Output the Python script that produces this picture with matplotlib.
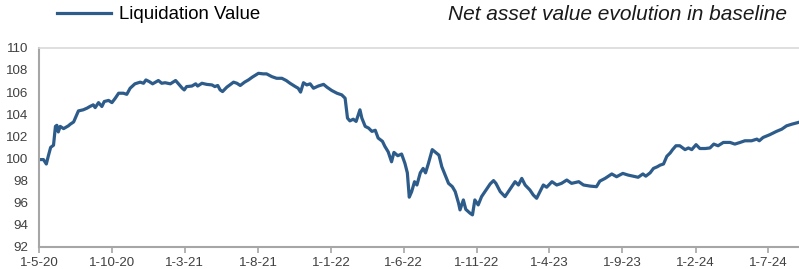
import matplotlib
matplotlib.use("Agg")
from matplotlib import pyplot as plt
import pandas as pd

days = [0, 9, 15, 19, 24, 30, 34, 37, 40, 44, 51, 61, 65, 72, 77, 82, 92, 100,
        106, 113, 117, 124, 131, 136, 145, 152, 159, 166, 176, 183, 190, 200,
        211, 218, 223, 230, 237, 249, 256, 263, 274, 285, 291, 299, 303, 308,
        319, 327, 331, 340, 350, 361, 367, 373, 378, 383, 392, 406, 413, 420,
        429, 437, 445, 458, 468, 475, 486, 496, 507, 516, 524, 535, 541, 546,
        552, 559, 566, 573, 583, 594, 601, 611, 622, 632, 639, 644, 649, 656,
        662, 665, 670, 674, 681, 688, 695, 702, 708, 717, 722, 729, 736, 741,
        749, 757, 764, 769, 773, 778, 784, 789, 796, 802, 807, 813, 821, 828,
        835, 841, 848, 855, 863, 869, 876, 879, 886, 891, 900, 905, 910, 917,
        924, 931, 942, 949, 954, 963, 973, 980, 987, 994, 1001, 1008, 1015,
        1025, 1032, 1039, 1046, 1053, 1060, 1071, 1081, 1091, 1102, 1112, 1127,
        1137, 1151, 1164, 1171, 1182, 1196, 1206, 1219, 1230, 1241, 1251, 1261,
        1267, 1276, 1283, 1291, 1297, 1304, 1311, 1318, 1323, 1330, 1338, 1349,
        1356, 1363, 1372, 1380, 1391, 1401, 1409, 1418, 1429, 1443, 1453, 1464,
        1474, 1488, 1499, 1504, 1512, 1526, 1540, 1551, 1561, 1572, 1585]
liq_value = [99.9, 99.9, 99.5, 100.2, 101.0, 101.2, 102.9, 103.0, 102.4, 102.9,
             102.7, 102.95, 103.1, 103.3, 103.8, 104.3, 104.4, 104.55, 104.7,
             104.85, 104.6, 105.05, 104.7, 105.15, 105.25, 105.05, 105.45, 105.9,
             105.9, 105.8, 106.35, 106.75, 106.9, 106.8, 107.1, 106.95, 106.75,
             107.05, 106.8, 106.85, 106.75, 107.05, 106.75, 106.35, 106.2, 106.5,
             106.55, 106.75, 106.55, 106.8, 106.7, 106.65, 106.5, 106.6, 106.2,
             106.05, 106.45, 106.9, 106.8, 106.6, 106.9, 107.1, 107.35, 107.7,
             107.65, 107.65, 107.4, 107.25, 107.25, 107.05, 106.8, 106.5, 106.35,
             106.0, 106.85, 106.65, 106.75, 106.35, 106.55, 106.7, 106.45, 106.15,
             105.9, 105.75, 105.45, 103.65, 103.4, 103.55, 103.35, 103.75, 104.4,
             103.65, 102.9, 102.75, 102.45, 102.55, 101.85, 101.55, 101.1, 100.6,
             99.7, 100.55, 100.25, 100.4, 99.55, 98.7, 96.5, 97.0, 97.9, 97.6,
             98.7, 99.1, 98.7, 99.55, 100.8, 100.55, 100.3, 99.25, 98.5, 97.75,
             97.45, 97.0, 95.95, 95.35, 96.25, 95.4, 95.05, 94.9, 96.25, 95.8,
             96.55, 97.0, 97.7, 98.0, 97.75, 97.0, 96.55, 97.0, 97.45, 97.9, 97.6,
             98.2, 97.6, 97.15, 96.7, 96.4, 97.0, 97.6, 97.4, 97.9, 97.6, 97.75,
             98.05, 97.75, 97.9, 97.6, 97.5, 97.45, 97.95, 98.2, 98.6, 98.35,
             98.65, 98.5, 98.4, 98.3, 98.6, 98.4, 98.7, 99.1, 99.25, 99.4, 99.5,
             100.2, 100.5, 100.8, 101.15, 101.15, 100.8, 100.95, 100.8, 101.25,
             100.9, 100.9, 100.95, 101.3, 101.15, 101.45, 101.45, 101.3, 101.45,
             101.6, 101.6, 101.75, 101.6, 101.9, 102.15, 102.45, 102.65, 102.95,
             103.1, 103.25]

start = pd.Timestamp("2020-05-01")
dates = start + pd.to_timedelta(days, unit="D")

tick_dates = pd.to_datetime(["2020-05-01", "2020-10-01", "2021-03-01", "2021-08-01",
                             "2022-01-01", "2022-06-01", "2022-11-01", "2023-04-01",
                             "2023-09-01", "2024-02-01", "2024-07-01"])
tick_labels = ["1-5-20", "1-10-20", "1-3-21", "1-8-21", "1-1-22", "1-6-22",
               "1-11-22", "1-4-23", "1-9-23", "1-2-24", "1-7-24"]

plt.rcParams["font.family"] = ["Liberation Sans", "DejaVu Sans"]

fig = plt.figure(figsize=(7.99, 2.69), dpi=100)
ax = fig.add_axes([0.049, 0.082, 0.951, 0.740])

line, = ax.plot(dates, liq_value, color="#2E5C8A", lw=2.3, label="Liquidation Value")

ax.set_ylim(92, 110)
ax.set_yticks(range(92, 111, 2))
ax.set_xlim(start, start + pd.Timedelta(days=1587))
ax.set_xticks(tick_dates)
ax.set_xticklabels(tick_labels)

for s in ["left", "bottom"]:
    ax.spines[s].set_color("#a6a6a6")
    ax.spines[s].set_linewidth(1.5)
ax.spines["top"].set_color("#d9d9d9")
ax.spines["top"].set_linewidth(1.2)
ax.spines["right"].set_visible(False)

ax.tick_params(axis="x", colors="#a6a6a6", length=4, width=1.2, labelcolor="#404040",
               labelsize=9.6, pad=3)
ax.tick_params(axis="y", length=0, labelcolor="#404040", labelsize=9.6, pad=8)

fig.legend(handles=[line], loc="center left", bbox_to_anchor=(0.071, 0.945),
           frameon=False, fontsize=13.4, handlelength=2.9, handletextpad=0.45,
           borderaxespad=0, borderpad=0)
fig.text(0.985, 0.945, "Net asset value evolution in baseline", ha="right", va="center",
         style="italic", fontsize=15, color="#1a1a1a")

fig.savefig("out.png", dpi=100)
